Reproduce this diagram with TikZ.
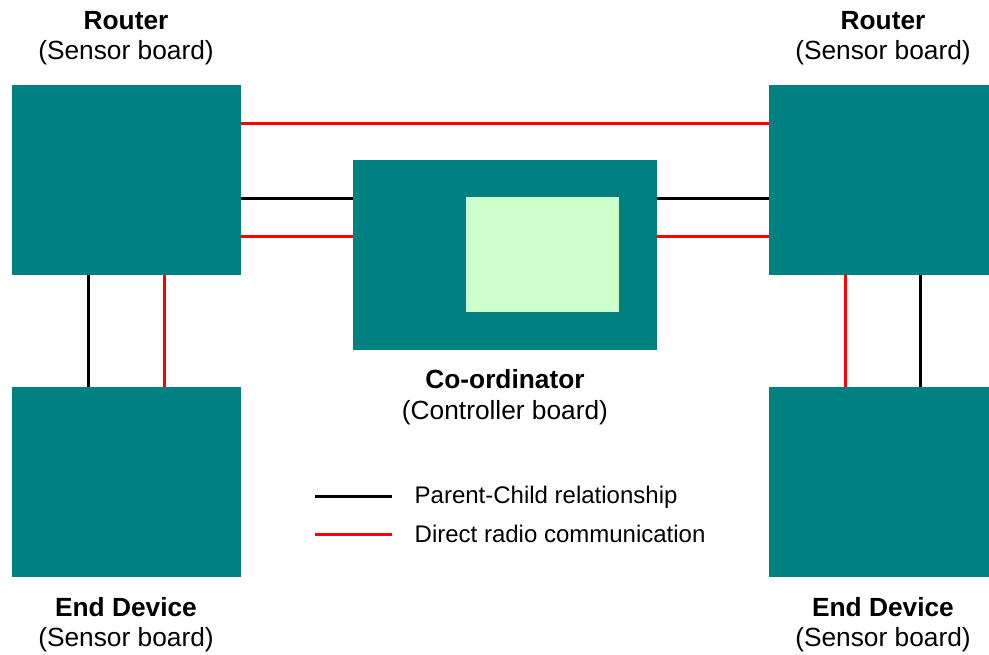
\documentclass[tikz,border=0pt]{standalone}
\usepackage{fontspec}
\setmainfont{Liberation Sans}
\definecolor{boardteal}{RGB}{0,128,128}
\definecolor{boardlight}{RGB}{204,255,204}
\definecolor{radiored}{RGB}{255,0,0}
\begin{document}
\begin{tikzpicture}[x=1pt,y=-1pt,
  board/.style={fill=boardteal,draw=none,inner sep=0pt,outer sep=0pt,anchor=north west},
  inner/.style={fill=boardlight,draw=none,inner sep=0pt,outer sep=0pt,anchor=north west},
  pc/.style={draw=black,line width=3pt},
  radio/.style={draw=radiored,line width=3pt},
  lab/.style={anchor=base,inner sep=0pt,font=\fontsize{26.3}{30}\selectfont},
  blab/.style={lab,font=\fontsize{26.3}{30}\selectfont\bfseries},
  leg/.style={anchor=base west,inner sep=0pt,font=\fontsize{24}{28}\selectfont}]
\useasboundingbox (0,0) rectangle (989,654);
\fill[white] (0,0) rectangle (989,654);
% boards
\node[board,minimum width=228.4pt,minimum height=190.2pt] (tl) at (12.3,84.5) {};
\node[board,minimum width=220pt,minimum height=190.2pt] (tr) at (769,84.5) {};
\node[board,minimum width=228.4pt,minimum height=190pt] (bl) at (12.3,386.7) {};
\node[board,minimum width=220pt,minimum height=190pt] (br) at (769,386.7) {};
\node[board,minimum width=304.3pt,minimum height=190pt] (co) at (352.7,160) {};
\node[inner,minimum width=153pt,minimum height=115pt] (ci) at (466,197.3) {};
% connectors
\draw[radio] (tl.east |- 0,123) -- (tr.west |- 0,123);
\draw[pc] (tl.east |- 0,198.3) -- (co.west |- 0,198.3);
\draw[radio] (tl.east |- 0,236) -- (co.west |- 0,236);
\draw[pc] (co.east |- 0,198.3) -- (tr.west |- 0,198.3);
\draw[radio] (co.east |- 0,236) -- (tr.west |- 0,236);
\draw[pc] (tl.south -| 88.3,0) -- (bl.north -| 88.3,0);
\draw[radio] (tl.south -| 164.3,0) -- (bl.north -| 164.3,0);
\draw[radio] (tr.south -| 845,0) -- (br.north -| 845,0);
\draw[pc] (tr.south -| 920.7,0) -- (br.north -| 920.7,0);
% labels
\node[blab] (r1) at (126,29) {Router};
\node[lab] (r1s) at (126,59) {(Sensor board)};
\node[blab] (r2) at (883,29) {Router};
\node[lab] (r2s) at (883,59) {(Sensor board)};
\node[blab] (cl) at (505,388.5) {Co-ordinator};
\node[lab] (cls) at (505,419.5) {(Controller board)};
\node[blab] (e1) at (126,616) {End Device};
\node[lab] (e1s) at (126,646) {(Sensor board)};
\node[blab] (e2) at (883,616) {End Device};
\node[lab] (e2s) at (883,646) {(Sensor board)};
% legend
\coordinate (lp1) at (315,496.7);
\coordinate (lp2) at (392,496.7);
\coordinate (lr1) at (315,534);
\coordinate (lr2) at (392,534);
\draw[pc] (lp1) -- (lp2);
\draw[radio] (lr1) -- (lr2);
\node[leg] (lpt) at (414.5,503.5) {Parent-Child relationship};
\node[leg] (lrt) at (414.5,542) {Direct radio communication};
\end{tikzpicture}
\end{document}
